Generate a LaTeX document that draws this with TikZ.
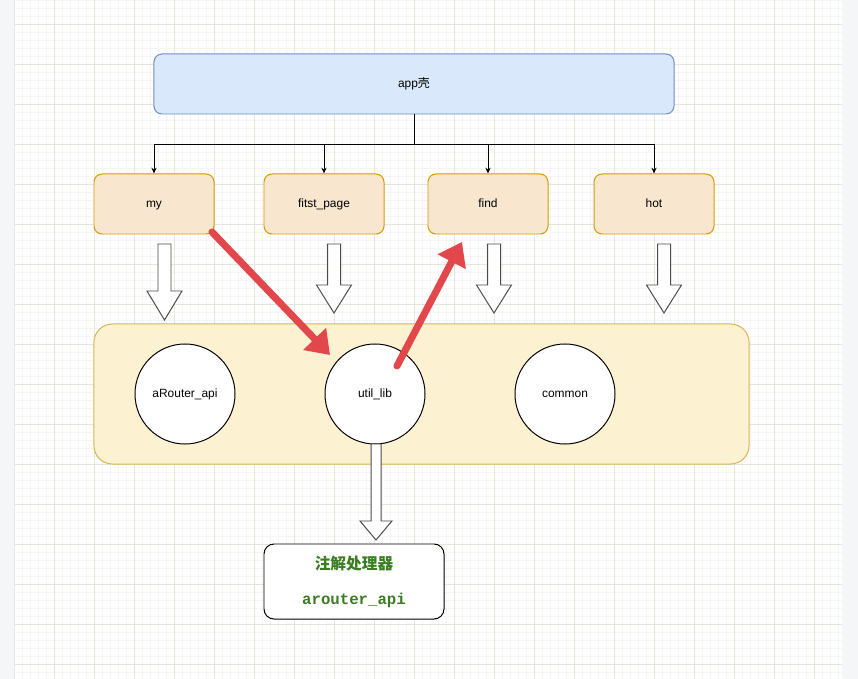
\documentclass[tikz,border=0pt]{standalone}
\usepackage{fontspec}
\setmainfont{Liberation Sans}
\setmonofont{Liberation Mono}
\newfontfamily\cjk{Noto Sans CJK SC}
\usetikzlibrary{arrows.meta}

\definecolor{appfill}{HTML}{DAE8FC}
\definecolor{appline}{HTML}{6C8EBF}
\definecolor{modfill}{HTML}{F8E6CF}
\definecolor{modline}{HTML}{D79B00}
\definecolor{libfill}{HTML}{FCF1D0}
\definecolor{libline}{HTML}{D6B656}
\definecolor{redc}{HTML}{E2474C}
\definecolor{greenc}{HTML}{3B7D23}
\definecolor{gridmajor}{HTML}{E5E4DD}
\definecolor{gridminor}{HTML}{F6F5F1}
\definecolor{strip}{HTML}{F5F6F8}

\begin{document}
\begin{tikzpicture}[x=0.03cm, y=-0.03cm, font=\fontsize{10.2}{12}\selectfont,
  every node/.style={line width=0.85pt},
  module/.style={draw=modline, fill=modfill, rounded corners=0.24cm,
    minimum width=3.6cm, minimum height=1.8cm, text height=1.6ex, text depth=0.5ex},
  lib/.style={draw, circle, fill=white, minimum size=3cm, inner sep=0pt},
  hollow/.style={draw=black!70, fill=white, line width=0.85pt},
  redarrow/.style={redc, line width=6pt, line cap=round,
    -{Triangle[length=19pt, width=26pt]}},
  tree/.style={-{Stealth[length=5pt, width=4.5pt]}, line width=0.75pt}]
  \useasboundingbox (0,0) rectangle (858,679);

  % page background and grid
  \fill[strip] (0,0) rectangle (858,679);
  \fill[white] (14,0) rectangle (842,679);
  \foreach \gx in {14,22,...,842} \draw[gridminor, line width=0.5pt] (\gx,0) -- (\gx,679);
  \foreach \gy in {0,8,...,679} \draw[gridminor, line width=0.5pt] (14,\gy) -- (842,\gy);
  \foreach \gx in {14,54,...,842} \draw[gridmajor, line width=0.6pt] (\gx,0) -- (\gx,679);
  \foreach \gy in {24,64,...,679} \draw[gridmajor, line width=0.6pt] (14,\gy) -- (842,\gy);
  \draw[black!10, line width=0.6pt] (14,0) -- (14,679);

  % shell app
  \node[draw=appline, fill=appfill, rounded corners=0.24cm,
    minimum width=15.6cm, minimum height=1.8cm] (app) at (414,84) {app{\cjk 壳}};

  % modules
  \node[module] (my) at (154,204) {my};
  \node[module] (first) at (324,204) {fitst\_page};
  \node[module] (find) at (488,204) {find};
  \node[module] (hot) at (654,204) {hot};

  \coordinate (split) at (414,144);
  \draw[line width=0.75pt] (app.south) -- (split);
  \foreach \m in {my,first,find,hot}
    \draw[tree] (split) -| (\m.north);

  % base libraries
  \node[draw=libline, fill=libfill, rounded corners=0.55cm,
    minimum width=19.65cm, minimum height=4.2cm] (base) at (421.5,394) {};
  \node[lib] (arouter) at (185,394) {aRouter\_api};
  \node[lib] (util) at (375,394) {util\_lib};
  \node[lib] (common) at (565,394) {common};

  % dependency arrows
  \foreach \ax/\ah/\at in {164.5/291/320, 334/285/313, 494/285/313, 664/285/313}
    \draw[hollow] (\ax-6.5,244) -- (\ax+6.5,244) -- (\ax+6.5,\ah) -- (\ax+17.5,\ah)
      -- (\ax,\at) -- (\ax-17.5,\ah) -- (\ax-6.5,\ah) -- cycle;
  \draw[hollow] (371,444) -- (381,444) -- (381,521) -- (392,521) -- (376,540)
    -- (360,521) -- (371,521) -- cycle;

  % annotation processor
  \node[draw, fill=white, rounded corners=0.3cm, minimum width=5.4cm,
    minimum height=2.25cm, align=center, text=greenc,
    font=\fontsize{13.4}{16}\selectfont\bfseries] (apt) at (354,581.5)
    {{\cjk 注解处理器}\\[14pt]\texttt{arouter\_api}};

  % call path
  \coordinate (r1s) at (212,232);
  \coordinate (r1e) at (330,355);
  \coordinate (r2s) at (397,366);
  \coordinate (r2e) at (462,242);
  \draw[redarrow] (r1s) -- (r1e);
  \draw[redarrow] (r2s) -- (r2e);
\end{tikzpicture}
\end{document}
